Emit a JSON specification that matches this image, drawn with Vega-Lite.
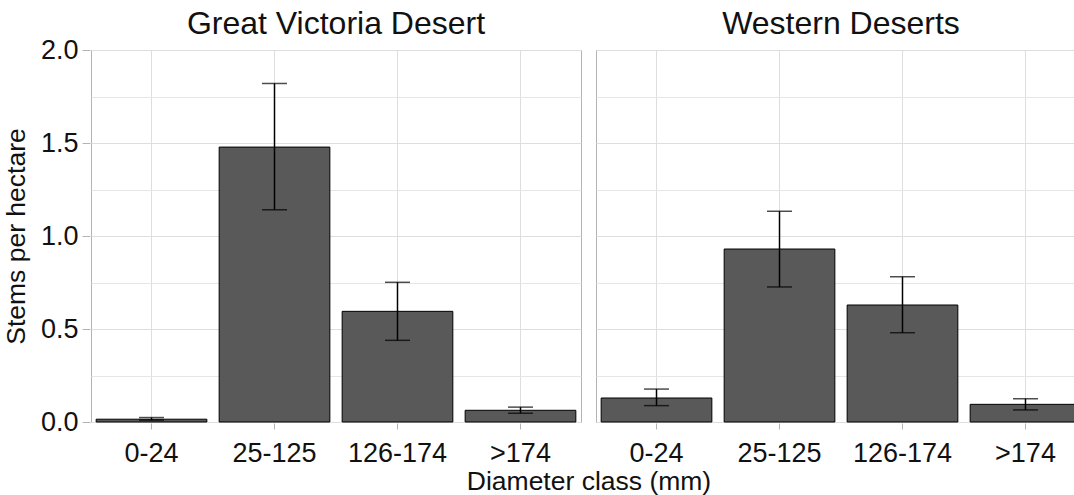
{
  "$schema": "https://vega.github.io/schema/vega-lite/v6.json",
  "padding": {"left": 3, "top": 8, "right": 0, "bottom": 0},
  "background": "white",
  "config": {
    "font": "Liberation Sans",
    "view": {"stroke": "#B3B3B3", "strokeWidth": 1},
    "axis": {"labelFont": "Liberation Sans", "titleFont": "Liberation Sans"}
  },
  "data": {
    "values": [
      {"region": "Great Victoria Desert", "cls": "0-24", "mean": 0.015, "lo": 0.01, "hi": 0.024},
      {"region": "Great Victoria Desert", "cls": "25-125", "mean": 1.478, "lo": 1.141, "hi": 1.82},
      {"region": "Great Victoria Desert", "cls": "126-174", "mean": 0.595, "lo": 0.439, "hi": 0.751},
      {"region": "Great Victoria Desert", "cls": ">174", "mean": 0.063, "lo": 0.047, "hi": 0.08},
      {"region": "Western Deserts", "cls": "0-24", "mean": 0.129, "lo": 0.088, "hi": 0.177},
      {"region": "Western Deserts", "cls": "25-125", "mean": 0.93, "lo": 0.726, "hi": 1.133},
      {"region": "Western Deserts", "cls": "126-174", "mean": 0.629, "lo": 0.48, "hi": 0.781},
      {"region": "Western Deserts", "cls": ">174", "mean": 0.095, "lo": 0.065, "hi": 0.125}
    ]
  },
  "facet": {
    "column": {
      "field": "region",
      "type": "nominal",
      "header": {
        "title": "Diameter class (mm)",
        "titleOrient": "bottom",
        "titleFontSize": 26.5,
        "titleFontWeight": "normal",
        "titleColor": "#111111",
        "titlePadding": -7,
        "labelOrient": "top",
        "labelFontSize": 32,
        "labelColor": "#111111",
        "labelPadding": 8
      }
    }
  },
  "spacing": 13,
  "spec": {
    "width": 490,
    "height": 372,
    "encoding": {
      "x": {
        "field": "cls",
        "type": "nominal",
        "sort": ["0-24", "25-125", "126-174", ">174"],
        "scale": {"paddingInner": 0.1, "paddingOuter": 0.042},
        "axis": {
          "title": null,
          "bandPosition": 0.5,
          "labelAngle": 0,
          "labelFontSize": 27,
          "labelColor": "#111111",
          "labelPadding": 11,
          "tickSize": 6,
          "tickColor": "#B3B3B3",
          "domain": false,
          "grid": true,
          "gridColor": "#DEDEDE",
          "gridWidth": 1
        }
      }
    },
    "layer": [
      {
        "mark": {"type": "bar", "fill": "#595959", "stroke": "#000000", "strokeWidth": 1},
        "encoding": {
          "y": {
            "field": "mean",
            "type": "quantitative",
            "scale": {"domain": [0, 2], "nice": false},
            "axis": {
              "title": "Stems per hectare",
              "titleFontSize": 26.5,
              "titleFontWeight": "normal",
              "titleColor": "#111111",
              "titlePadding": 10,
              "values": [0, 0.25, 0.5, 0.75, 1, 1.25, 1.5, 1.75, 2],
              "format": ".1f",
              "labelExpr": "datum.value % 0.5 == 0 ? datum.label : ''",
              "labelFontSize": 27,
              "labelColor": "#111111",
              "labelPadding": 4,
              "tickSize": 8,
              "tickColor": "#B3B3B3",
              "tickOpacity": {"condition": {"test": "datum.value % 0.5 == 0", "value": 1}, "value": 0},
              "domain": false,
              "grid": true,
              "gridColor": {"condition": {"test": "datum.value % 0.5 == 0", "value": "#DEDEDE"}, "value": "#E6E6E6"},
              "gridWidth": 1
            }
          }
        }
      },
      {
        "mark": {"type": "rule", "color": "#000000", "strokeWidth": 1.5},
        "encoding": {
          "y": {"field": "lo", "type": "quantitative"},
          "y2": {"field": "hi"}
        }
      },
      {
        "mark": {"type": "tick", "color": "#000000", "thickness": 1.5, "size": 25},
        "encoding": {
          "y": {"field": "lo", "type": "quantitative"}
        }
      },
      {
        "mark": {"type": "tick", "color": "#000000", "thickness": 1.5, "size": 25},
        "encoding": {
          "y": {"field": "hi", "type": "quantitative"}
        }
      }
    ]
  }
}
